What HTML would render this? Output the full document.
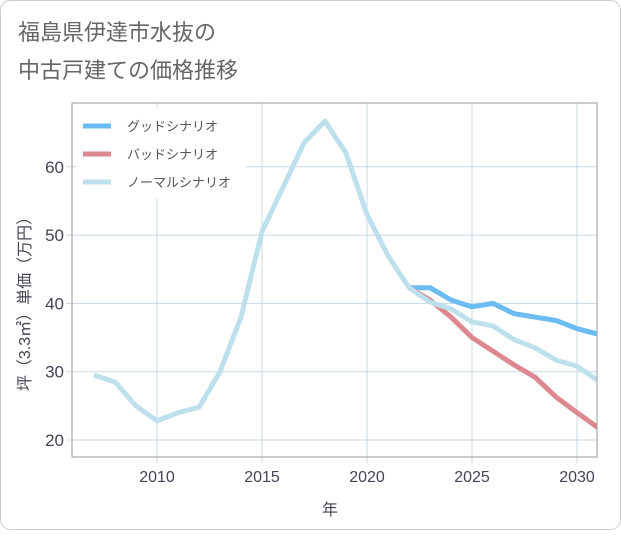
<!DOCTYPE html>
<html><head><meta charset="utf-8"><style>
body{margin:0;background:#fff;}
svg text{font-family:"Liberation Sans","Noto Sans CJK JP",sans-serif;}
</style></head><body>
<svg width="621" height="530" xmlns="http://www.w3.org/2000/svg">
<rect x="0.5" y="0.5" width="620" height="529" rx="10" fill="#fff" stroke="#ccc"/>
<text x="18" y="40" font-size="22" fill="#666">福島県伊達市水抜の</text>
<text x="18" y="78" font-size="22" fill="#666">中古戸建ての価格推移</text>
<g id="grid"></g>
<g id="series"></g>
<rect x="72" y="103" width="525" height="354" fill="none" stroke="#999"/>
<g id="legend"></g>
<text x="330" y="515" font-size="16" fill="#445" text-anchor="middle">年</text>
<text transform="translate(30,300) rotate(-90)" font-size="16" fill="#445" text-anchor="middle">坪（3.3㎡）単価（万円）</text>
</svg>
<script>
const xTicks=[2010,2015,2020,2025,2030];
const yTicks=[20,30,40,50,60];
const normalYears=[2007,2008,2009,2010,2011,2012,2013,2014,2015,2016,2017,2018,2019,2020,2021,2022,2023,2024,2025,2026,2027,2028,2029,2030,2031];
const normalValues=[29.5,28.5,25,22.8,24,24.8,30,38,50.5,57,63.5,66.7,62,53,47,42.3,40.2,39.2,37.3,36.7,34.7,33.5,31.7,30.8,28.7];
const forecastYears=[2022,2023,2024,2025,2026,2027,2028,2029,2030,2031];
const goodValues=[42.3,42.3,40.5,39.5,40,38.5,38,37.5,36.3,35.5];
const badValues=[42.3,40.5,38,35,33,31,29.2,26.3,24,21.8];
const seriesNames=["グッドシナリオ","バッドシナリオ","ノーマルシナリオ"];
const colors=["#6bbcf2","#dd8890","#bde0ec"];
const NS="http://www.w3.org/2000/svg";
const X0=72,X1=597;
const xs=y=>157+(y-2010)*21;
const ys=v=>440-(v-20)*6.83;
function mk(t,a,p){const e=document.createElementNS(NS,t);for(const k in a)e.setAttribute(k,a[k]);p.appendChild(e);return e;}
const grid=document.getElementById('grid');
xTicks.forEach(t=>{
 const l=mk('line',{x1:xs(t),x2:xs(t),y1:103,y2:463,stroke:'#c8d8e4'},grid);
 
 
 const tx=mk('text',{x:xs(t),y:482,'font-size':16,fill:'#445','text-anchor':'middle'},grid);
 tx.textContent=t;
 
 
});
yTicks.forEach(t=>{
 const l=mk('line',{x1:66,x2:X1,y1:ys(t),y2:ys(t),stroke:'#c8d8e4'},grid);
 
 
 const tx=mk('text',{x:64,y:ys(t)+6,'font-size':17,fill:'#445','text-anchor':'end'},grid);
 tx.textContent=t;
 
 
});
const ser=document.getElementById('series');
const clip=mk('clipPath',{id:'c'},ser);mk('rect',{x:X0,y:103,width:X1-X0,height:354},clip);
function line(years,vals,c,name){
 const p=mk('polyline',{points:years.map((y,i)=>xs(y)+','+ys(vals[i])).join(' '),fill:'none',stroke:c,'stroke-width':5,'stroke-linejoin':'round','clip-path':'url(#c)'},ser);
 
 
}
line(forecastYears,goodValues,colors[0],'good-scenario-line');
line(forecastYears,badValues,colors[1],'bad-scenario-line');
line(normalYears,normalValues,colors[2],'normal-scenario-line');
const lg=document.getElementById('legend');
const bg=mk('rect',{x:76,y:108,width:170,height:90,fill:'#fff'},lg);


seriesNames.forEach((n,i)=>{
 const y=126+i*28;
 const g=mk('g',{},lg);
 
 
 mk('line',{x1:83,x2:111,y1:y,y2:y,stroke:colors[i],'stroke-width':5},g);
 const t=mk('text',{x:127,y:y+5,'font-size':13,fill:'#555'},g);
 t.textContent=n;
});
</script>
</body></html>
